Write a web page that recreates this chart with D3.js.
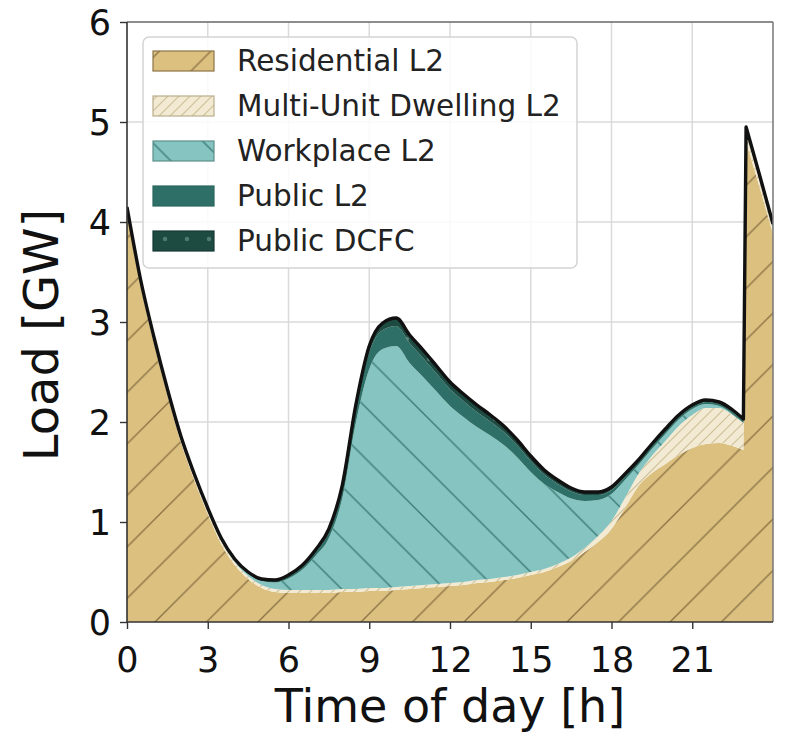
<!DOCTYPE html>
<html>
<head>
<meta charset="utf-8">
<script src="https://cdn.jsdelivr.net/npm/d3@7"></script>
<style>
  html, body { margin: 0; padding: 0; background: #ffffff; }
  svg { display: block; font-family: "DejaVu Sans", sans-serif; }
</style>
</head>
<body>
<svg id="chart" width="787" height="732"></svg>
<script>
// Hour of day at which each load sample is taken (half-hourly, plus the 23:00 step)
const hours = [0, 0.5, 1, 1.5, 2, 2.5, 3, 3.5, 4, 4.5, 5, 5.5, 6, 6.5, 7, 7.5, 8, 8.5, 9, 9.5,
               10, 10.5, 11, 11.5, 12, 12.5, 13, 13.5, 14, 14.5, 15, 15.5, 16, 16.5, 17, 17.5, 18, 18.5, 19, 19.5,
               20, 20.5, 21, 21.5, 22, 22.5, 22.9, 23, 23.5, 24];

// Charging load per segment [GW]
const residentialL2 = [4.09, 3.37, 2.79, 2.27, 1.80, 1.42, 1.08, 0.78, 0.57, 0.43, 0.34, 0.30, 0.29, 0.29, 0.29, 0.29, 0.30, 0.30, 0.31, 0.31,
                       0.32, 0.33, 0.34, 0.35, 0.36, 0.37, 0.39, 0.40, 0.42, 0.44, 0.47, 0.50, 0.55, 0.61, 0.70, 0.80, 0.93, 1.14, 1.36, 1.49,
                       1.58, 1.67, 1.74, 1.78, 1.79, 1.76, 1.72, 4.80, 4.35, 3.88];
const multiUnitL2   = [0.03, 0.03, 0.03, 0.03, 0.03, 0.03, 0.03, 0.03, 0.03, 0.03, 0.03, 0.03, 0.03, 0.03, 0.03, 0.03, 0.03, 0.03, 0.03, 0.03,
                       0.03, 0.03, 0.03, 0.03, 0.03, 0.03, 0.03, 0.03, 0.03, 0.03, 0.03, 0.03, 0.03, 0.035, 0.04, 0.06, 0.08, 0.10, 0.12, 0.17,
                       0.23, 0.29, 0.33, 0.36, 0.35, 0.31, 0.27, 0.10, 0.08, 0.06];
const workplaceL2   = [0.00, 0.00, 0.00, 0.00, 0.00, 0.00, 0.00, 0.00, 0.01, 0.02, 0.04, 0.065, 0.115, 0.20, 0.34, 0.52, 0.91, 1.66, 2.19, 2.39,
                       2.41, 2.23, 2.08, 1.925, 1.77, 1.65, 1.53, 1.435, 1.32, 1.175, 1.00, 0.85, 0.72, 0.59, 0.47, 0.36, 0.27, 0.18, 0.09, 0.07,
                       0.07, 0.065, 0.06, 0.04, 0.02, 0.01, 0.00, 0.01, 0.00, 0.00];
const publicL2      = [0.015, 0.015, 0.015, 0.015, 0.015, 0.015, 0.015, 0.015, 0.01, 0.01, 0.01, 0.015, 0.02, 0.03, 0.04, 0.06, 0.09, 0.13, 0.17, 0.19,
                       0.20, 0.20, 0.19, 0.18, 0.17, 0.16, 0.15, 0.14, 0.13, 0.12, 0.11, 0.095, 0.08, 0.07, 0.06, 0.05, 0.04, 0.035, 0.03, 0.03,
                       0.03, 0.025, 0.02, 0.02, 0.02, 0.02, 0.02, 0.02, 0.02, 0.02];
const publicDCFC    = [0.015, 0.015, 0.015, 0.015, 0.015, 0.015, 0.015, 0.015, 0.01, 0.01, 0.01, 0.01, 0.015, 0.015, 0.02, 0.03, 0.04, 0.05, 0.06, 0.07,
                       0.08, 0.08, 0.08, 0.075, 0.07, 0.07, 0.07, 0.065, 0.06, 0.055, 0.05, 0.045, 0.04, 0.035, 0.03, 0.03, 0.03, 0.025, 0.02, 0.02,
                       0.02, 0.02, 0.02, 0.02, 0.02, 0.02, 0.02, 0.02, 0.02, 0.02];

const seriesKeys   = ["res", "mud", "work", "pubL2", "dcfc"];
const seriesLabels = ["Residential L2", "Multi-Unit Dwelling L2", "Workplace L2", "Public L2", "Public DCFC"];

const xTicks = [0, 3, 6, 9, 12, 15, 18, 21];
const yTicks = [0, 1, 2, 3, 4, 5, 6];

const xLabel = "Time of day [h]";
const yLabel = "Load [GW]";

// hour after which the profile steps sharply (drawn with straight segments)
const stepStart = 22.9;

// ---- layout ----
const svg = d3.select("#chart");
const plot = { left: 127, right: 773, top: 22, bottom: 622 };

const x = d3.scaleLinear().domain([0, 24]).range([plot.left, plot.right]);
const y = d3.scaleLinear().domain([0, 6]).range([plot.bottom, plot.top]);

const rows = hours.map((h, i) => ({
  h,
  res: residentialL2[i],
  mud: multiUnitL2[i],
  work: workplaceL2[i],
  pubL2: publicL2[i],
  dcfc: publicDCFC[i]
}));

const stacked = d3.stack().keys(seriesKeys)(rows);

// Curve: smooth monotone interpolation up to splitX, straight segments after it.
function smoothThenLinear(splitX) {
  return function (context) {
    let pts = [], inArea = false, lineIndex = 0;
    return {
      areaStart() { inArea = true; lineIndex = 0; },
      areaEnd() { inArea = false; },
      lineStart() { pts = []; },
      point(px, py) { pts.push([+px, +py]); },
      lineEnd() {
        const first = !inArea || lineIndex === 0;
        let started = false;
        const proxy = {
          moveTo(a, b) { (first && !started) ? context.moveTo(a, b) : context.lineTo(a, b); started = true; },
          lineTo(a, b) { context.lineTo(a, b); started = true; },
          bezierCurveTo(a, b, c, d, e, f) { context.bezierCurveTo(a, b, c, d, e, f); },
          closePath() {}
        };
        const eps = 0.01;
        const forward = pts.length < 2 || pts[0][0] <= pts[pts.length - 1][0];
        const smooth = pts.filter(p => p[0] <= splitX + eps);
        const straight = pts.filter(p => p[0] >= splitX - eps);
        const runSmooth = () => {
          const m = d3.curveMonotoneX(proxy);
          m.lineStart();
          smooth.forEach(p => m.point(p[0], p[1]));
          m.lineEnd();
        };
        const runStraight = () => {
          straight.forEach((p, i) => {
            if (i === 0) proxy.moveTo(p[0], p[1]); else proxy.lineTo(p[0], p[1]);
          });
        };
        if (forward) { runSmooth(); runStraight(); } else { runStraight(); runSmooth(); }
        if (inArea && lineIndex === 1) context.closePath();
        lineIndex++;
      }
    };
  };
}
const curve = smoothThenLinear(x(stepStart));

// ---- hatch patterns ----
const defs = svg.append("defs");

function diagPattern(id, size, fill, stroke, width, dir, offset) {
  const p = defs.append("pattern")
    .attr("id", id)
    .attr("patternUnits", "userSpaceOnUse")
    .attr("x", offset).attr("y", 0)
    .attr("width", size).attr("height", size);
  p.append("rect").attr("width", size).attr("height", size).attr("fill", fill);
  const s = size;
  const d = dir === "/"
    ? `M0,${s} L${s},0 M${-s / 2},${s / 2} L${s / 2},${-s / 2} M${s / 2},${1.5 * s} L${1.5 * s},${s / 2}`
    : `M0,0 L${s},${s} M${-s / 2},${s / 2} L${s / 2},${1.5 * s} M${s / 2},${-s / 2} L${1.5 * s},${s / 2}`;
  p.append("path").attr("d", d).attr("stroke", stroke).attr("stroke-width", width).attr("fill", "none");
  return `url(#${id})`;
}

const fills = {
  res: diagPattern("hatch-res", 51.5, "#dcc07f", "#8c7446", 1.4, "/", 4.5),
  mud: diagPattern("hatch-mud", 11, "#f2ead2", "#cdbf98", 1.1, "/", 0),
  work: diagPattern("hatch-work", 51.5, "#86c4c1", "#3c7c77", 1.4, "\\", 10),
  pubL2: "#2e7067",
  dcfc: "#1d4a41"
};

// DCFC swatch gets a faint dotted texture
(function () {
  const p = defs.append("pattern")
    .attr("id", "dots-dcfc").attr("patternUnits", "userSpaceOnUse")
    .attr("width", 22).attr("height", 20).attr("x", 0).attr("y", 4);
  p.append("rect").attr("width", 22).attr("height", 20).attr("fill", "#1d4a41");
  p.append("circle").attr("cx", 11).attr("cy", 15).attr("r", 2.2).attr("fill", "#4f7a70");
  fills.dcfc = "url(#dots-dcfc)";
})();

// ---- grid ----
const grid = svg.append("g");
grid.selectAll("line.gx").data(xTicks.filter(t => t > 0)).join("line")
  .attr("x1", d => x(d)).attr("x2", d => x(d))
  .attr("y1", plot.top).attr("y2", plot.bottom)
  .attr("stroke", "#dadada").attr("stroke-width", 1.5);
grid.selectAll("line.gy").data(yTicks.filter(t => t > 0 && t < 6)).join("line")
  .attr("x1", plot.left).attr("x2", plot.right)
  .attr("y1", d => y(d)).attr("y2", d => y(d))
  .attr("stroke", "#dadada").attr("stroke-width", 1.5);

// ---- stacked areas ----
svg.append("clipPath").attr("id", "plot-clip")
  .append("rect")
  .attr("x", plot.left).attr("y", plot.top)
  .attr("width", plot.right - plot.left).attr("height", plot.bottom - plot.top);

const area = d3.area()
  .x(d => x(d.data.h))
  .y0(d => y(d[0]))
  .y1(d => y(d[1]))
  .curve(curve);

const layers = svg.append("g").attr("clip-path", "url(#plot-clip)");
layers.selectAll("path.layer").data(stacked).join("path")
  .attr("class", "layer")
  .attr("d", area)
  .attr("fill", d => fills[d.key]);

// total load outline
const totalLine = d3.line()
  .x(d => x(d.data.h))
  .y(d => y(d[1]))
  .curve(curve);

layers.append("path")
  .datum(stacked[stacked.length - 1])
  .attr("d", totalLine)
  .attr("fill", "none")
  .attr("stroke", "#111111")
  .attr("stroke-width", 3.4)
  .attr("stroke-linejoin", "round");

// ---- spines ----
const frame = svg.append("g");
frame.append("line").attr("x1", plot.left).attr("x2", plot.right).attr("y1", plot.top).attr("y2", plot.top)
  .attr("stroke", "#666").attr("stroke-width", 1.5);
frame.append("line").attr("x1", plot.right).attr("x2", plot.right).attr("y1", plot.top).attr("y2", plot.bottom)
  .attr("stroke", "#777").attr("stroke-width", 1.5);
frame.append("line").attr("x1", plot.left).attr("x2", plot.left).attr("y1", plot.top).attr("y2", plot.bottom)
  .attr("stroke", "#333").attr("stroke-width", 1.6);
frame.append("line").attr("x1", plot.left).attr("x2", plot.right).attr("y1", plot.bottom).attr("y2", plot.bottom)
  .attr("stroke", "#333").attr("stroke-width", 1.6);

// ---- axes ----
const xAxis = d3.axisBottom(x).tickValues(xTicks).tickSize(7).tickPadding(8).tickFormat(d3.format("d"));
const gx = svg.append("g").attr("transform", `translate(0,${plot.bottom})`).call(xAxis);
gx.select(".domain").remove();
gx.selectAll(".tick line").attr("stroke", "#333").attr("stroke-width", 1.4);
gx.selectAll(".tick text")
  .attr("font-family", "DejaVu Sans").attr("font-size", 35).attr("fill", "#111")
  .attr("dy", null).attr("y", 50);

const yAxis = d3.axisLeft(y).tickValues(yTicks).tickSize(7).tickPadding(8).tickFormat(d3.format("d"));
const gy = svg.append("g").attr("transform", `translate(${plot.left},0)`).call(yAxis);
gy.select(".domain").remove();
gy.selectAll(".tick line").attr("stroke", "#333").attr("stroke-width", 1.4);
gy.selectAll(".tick text")
  .attr("font-family", "DejaVu Sans").attr("font-size", 35).attr("fill", "#111")
  .attr("x", -16).attr("dy", "0.36em");

svg.append("text")
  .attr("x", x(12)).attr("y", 722)
  .attr("text-anchor", "middle")
  .attr("font-size", 46).attr("fill", "#111")
  .text(xLabel);

svg.append("text")
  .attr("transform", `translate(58,335) rotate(-90)`)
  .attr("text-anchor", "middle")
  .attr("font-size", 48).attr("fill", "#111")
  .text(yLabel);

// ---- legend ----
const legend = svg.append("g");
legend.append("rect")
  .attr("x", 143).attr("y", 37).attr("width", 434).attr("height", 231)
  .attr("rx", 6).attr("ry", 6)
  .attr("fill", "#ffffff").attr("fill-opacity", 0.85)
  .attr("stroke", "#d4d4d4").attr("stroke-width", 1.5);

const legendRowY = d3.scaleLinear().domain([0, 4]).range([61, 241]);
const swatchStroke = { res: "#8c7446", mud: "#b9ad8c", work: "#5c8f8b", pubL2: "#2a665e", dcfc: "#173a34" };

const items = legend.selectAll("g.item").data(seriesKeys).join("g").attr("class", "item");
items.append("rect")
  .attr("x", 153).attr("y", (d, i) => legendRowY(i) - 10)
  .attr("width", 61).attr("height", 20)
  .attr("fill", d => fills[d])
  .attr("stroke", d => swatchStroke[d]).attr("stroke-width", 1.2);
items.append("text")
  .attr("x", 237).attr("y", (d, i) => legendRowY(i) + 10)
  .attr("font-size", 29.5).attr("fill", "#222")
  .text((d, i) => seriesLabels[i]);
</script>
</body>
</html>
